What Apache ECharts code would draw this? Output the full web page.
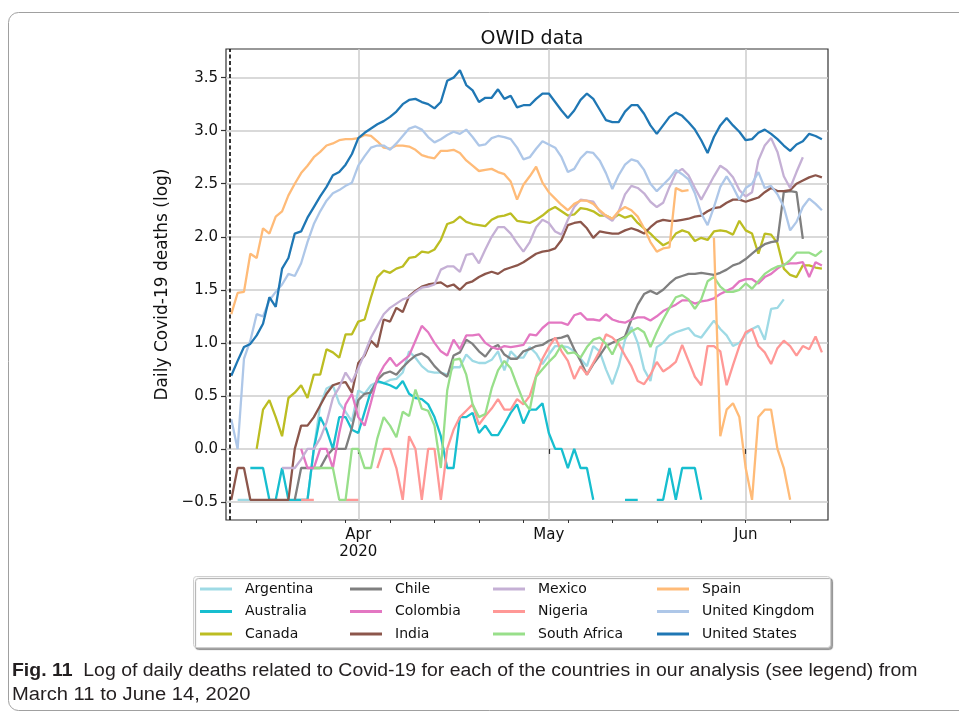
<!DOCTYPE html>
<html>
<head>
<meta charset="utf-8">
<script src="https://cdn.jsdelivr.net/npm/echarts@6/dist/echarts.min.js"></script>
<style>
  html, body { margin: 0; padding: 0; background: #fff; }
  #chart { width: 959px; height: 714px; }
</style>
</head>
<body>
<div id="chart"></div>
<script>
// days are counted from 1 March 2020 (= 0); first value is 12 March
const firstDay = 11;
const pandemicDay = 10.8;          // dashed marker line
const xMin = 10.17, xMax = 104.96;
const monthStarts = [31, 61, 92];
const monthLabels = ['Apr\n2020', 'May', 'Jun'];
const weekStarts = [15, 22, 29, 36, 43, 50, 57, 64, 71, 78, 85, 92, 99];
const yMin = -0.67, yMax = 3.77;
const yTicks = [-0.5, 0, 0.5, 1, 1.5, 2, 2.5, 3, 3.5];

const countries = ['Argentina', 'Australia', 'Canada', 'Chile', 'Colombia', 'India',
  'Mexico', 'Nigeria', 'South Africa', 'Spain', 'United Kingdom', 'United States'];
const colors = ['#9edae5', '#17becf', '#bcbd22', '#7f7f7f', '#e377c2', '#8c564b',
  '#c5b0d5', '#ff9896', '#98df8a', '#ffbb78', '#aec7e8', '#1f77b4'];

// log10 of daily deaths
const argentina = [null, -0.48, -0.48, -0.48, null, null, null, null, null, null,
  -0.48, -0.48, -0.48, 0.0, 0.41, 0.57, 0.60, 0.43, 0.35, 0.26,
  0.55, 0.52, 0.60, 0.63, 0.62, 0.65, 0.66, 0.72, 0.92, 0.86,
  0.78, 0.73, 0.72, 0.72, 0.70, 0.77, 0.77, 0.89, 0.83, 0.81,
  0.81, 0.84, 0.92, 0.74, 0.92, 0.86, 0.86, 0.96, 0.90, 0.80,
  0.89, 0.97, 0.97, 0.96, 0.92, 0.85, 0.78, 0.97, 0.92, 0.75,
  0.61, 0.78, 1.03, 1.15, 1.00, 0.75, 0.64, 0.96, 1.00, 1.07,
  1.10, 1.12, 1.14, 1.07, 1.05, 1.13, 1.21, 1.13, 1.07, 0.97,
  1.00, 1.08, 1.13, 1.16, 1.03, 1.32, 1.33, 1.41, null, null,
  null, null, null, null];
const australia = [null, null, null, -0.18, -0.18, -0.18, -0.48, -0.48, -0.18, -0.48,
  -0.48, -0.48, -0.48, 0.0, 0.30, 0.18, 0.0, 0.30, 0.30, 0.18,
  0.15, 0.35, 0.55, 0.64, 0.62, 0.60, 0.57, 0.64, 0.52, 0.48,
  0.47, 0.42, 0.30, 0.12, -0.18, -0.18, 0.30, 0.30, 0.34, 0.15,
  0.22, 0.13, 0.13, 0.23, 0.34, 0.42, 0.24, 0.37, 0.37, 0.43,
  0.15, 0.0, 0.0, -0.18, 0.0, -0.18, -0.18, -0.48, null, null,
  null, null, -0.48, -0.48, -0.48, null, null, -0.48, -0.48, -0.18,
  -0.48, -0.18, -0.18, -0.18, -0.48, null, null, null, null, null,
  null, null, null, null, null, null, null, null, null, null,
  null, null, null, null];
const canada = [null, null, null, null, 0.0, 0.37, 0.46, 0.30, 0.12, 0.48,
  0.53, 0.60, 0.48, 0.70, 0.70, 0.94, 0.91, 0.86, 1.08, 1.08,
  1.20, 1.22, 1.43, 1.62, 1.68, 1.66, 1.70, 1.72, 1.80, 1.81,
  1.86, 1.85, 1.88, 1.97, 2.12, 2.14, 2.19, 2.14, 2.12, 2.11,
  2.10, 2.16, 2.19, 2.20, 2.22, 2.15, 2.14, 2.13, 2.16, 2.20,
  2.25, 2.28, 2.24, 2.20, 2.21, 2.27, 2.26, 2.24, 2.20, 2.20,
  2.17, 2.21, 2.18, 2.20, 2.13, 2.08, 2.03, 1.97, 1.92, 1.95,
  2.03, 2.06, 2.04, 1.96, 1.99, 1.97, 2.05, 2.06, 2.05, 2.02,
  2.15, 2.06, 2.03, 1.84, 2.03, 2.02, 1.94, 1.70, 1.64, 1.62,
  1.73, 1.73, 1.71, 1.70];
const chile = [null, null, null, null, null, null, null, null, null, null,
  -0.48, -0.18, -0.18, -0.18, -0.18, -0.07, 0.0, 0.0, 0.0, 0.20,
  0.46, 0.52, 0.53, 0.65, 0.71, 0.73, 0.70, 0.77, 0.83, 0.88,
  0.90, 0.86, 0.78, 0.72, 0.68, 0.88, 0.91, 1.03, 0.99, 0.92,
  0.87, 0.95, 0.98, 0.89, 0.85, 0.85, 0.92, 0.94, 0.97, 0.98,
  1.02, 1.04, 1.05, 1.07, 0.94, 0.83, 0.70, 0.80, 0.88, 0.97,
  1.00, 1.03, 1.06, 1.22, 1.36, 1.46, 1.49, 1.46, 1.50, 1.56,
  1.61, 1.63, 1.65, 1.65, 1.66, 1.65, 1.64, 1.66, 1.69, 1.73,
  1.75, 1.79, 1.84, 1.89, 1.93, 1.95, 1.96, 2.42, 2.43, 2.42,
  1.98, null, null, null];
const colombia = [null, null, null, null, null, null, null, null, null, null,
  null, 0.0, -0.18, -0.18, 0.0, 0.0, -0.18, 0.15, 0.42, 0.52,
  0.30, 0.22, 0.44, 0.67, 0.78, 0.86, 0.78, 0.83, 0.88, 1.02,
  1.16, 1.10, 1.00, 0.92, 0.88, 1.03, 0.94, 1.07, 1.07, 1.08,
  1.00, 0.96, 0.94, 0.97, 0.96, 0.97, 0.98, 1.08, 1.07, 1.14,
  1.19, 1.19, 1.19, 1.17, 1.26, 1.28, 1.22, 1.22, 1.21, 1.27,
  1.22, 1.20, 1.19, 1.22, 1.24, 1.24, 1.21, 1.25, 1.30, 1.33,
  1.36, 1.40, 1.40, 1.37, 1.39, 1.40, 1.42, 1.46, 1.49, 1.52,
  1.58, 1.60, 1.60, 1.56, 1.62, 1.65, 1.70, 1.74, 1.75, 1.75,
  1.76, 1.62, 1.76, 1.73];
const india = [-0.48, -0.18, -0.18, -0.48, -0.48, -0.48, -0.48, -0.48, -0.48, -0.48,
  0.0, 0.22, 0.22, 0.30, 0.41, 0.52, 0.60, 0.62, 0.63, 0.53,
  0.81, 0.88, 1.02, 0.96, 1.22, 1.20, 1.33, 1.29, 1.44, 1.49,
  1.53, 1.55, 1.56, 1.57, 1.53, 1.55, 1.50, 1.56, 1.58, 1.62,
  1.65, 1.67, 1.65, 1.69, 1.71, 1.73, 1.76, 1.80, 1.84, 1.86,
  1.87, 1.89, 1.97, 2.11, 2.13, 2.14, 2.08, 1.99, 2.05, 2.04,
  2.03, 2.03, 2.06, 2.08, 2.06, 2.03, 2.09, 2.14, 2.16, 2.15,
  2.15, 2.16, 2.17, 2.19, 2.20, 2.24, 2.27, 2.28, 2.32, 2.35,
  2.35, 2.33, 2.35, 2.37, 2.42, 2.46, 2.43, 2.43, 2.44, 2.50,
  2.53, 2.56, 2.58, 2.56];
const mexico = [null, null, null, null, null, null, null, null, -0.18, -0.18,
  -0.18, -0.10, 0.0, 0.0, 0.10, 0.25, 0.48, 0.58, 0.72, 0.63,
  0.76, 0.90, 1.05, 1.16, 1.27, 1.33, 1.37, 1.41, 1.43, 1.48,
  1.52, 1.53, 1.55, 1.69, 1.72, 1.72, 1.67, 1.83, 1.84, 1.75,
  1.88, 2.00, 2.09, 2.09, 2.03, 1.94, 1.86, 1.95, 2.09, 2.16,
  2.13, 2.05, 2.02, 2.16, 2.28, 2.35, 2.34, 2.33, 2.24, 2.19,
  2.15, 2.24, 2.40, 2.48, 2.46, 2.41, 2.33, 2.28, 2.32, 2.47,
  2.60, 2.64, 2.58, 2.46, 2.35, 2.46, 2.57, 2.67, 2.63, 2.56,
  2.44, 2.38, 2.42, 2.72, 2.86, 2.93, 2.80, 2.57, 2.46, 2.61,
  2.75, null, null, null];
const nigeria = [null, null, null, null, null, null, null, null, null, null,
  null, -0.48, -0.48, -0.48, null, null, null, null, -0.48, -0.48,
  -0.48, null, null, -0.18, 0.0, 0.0, -0.18, -0.48, 0.12, 0.0,
  -0.48, 0.0, 0.0, -0.48, 0.0, 0.18, 0.30, 0.36, 0.42, 0.23,
  0.31, 0.38, 0.47, 0.37, 0.37, 0.47, 0.42, 0.50, 0.69, 0.85,
  0.96, 1.05, 0.92, 0.83, 0.66, 0.78, 0.70, 0.81, 0.92, 1.08,
  1.05, 0.99, 0.88, 0.78, 0.64, 0.61, 0.70, 0.82, 0.73, 0.77,
  0.82, 0.98, 0.83, 0.68, 0.60, 0.97, 0.97, 0.92, 0.60, 0.79,
  0.97, 1.10, 1.13, 0.97, 0.91, 0.80, 0.95, 1.02, 0.97, 0.88,
  0.97, 0.94, 1.06, 0.91];
const southAfrica = [null, null, null, null, null, null, null, null, null, null,
  null, null, null, -0.18, -0.18, -0.18, -0.18, -0.48, -0.48, 0.0,
  0.0, -0.18, -0.18, 0.10, 0.30, 0.22, 0.11, 0.35, 0.31, 0.56,
  0.38, 0.36, 0.22, -0.18, 0.55, 0.84, 0.85, 0.70, 0.42, 0.30,
  0.33, 0.57, 0.74, 0.83, 0.76, 0.60, 0.45, 0.37, 0.68, 0.75,
  0.82, 0.88, 0.98, 0.90, 0.91, 0.86, 0.96, 1.03, 1.05, 0.99,
  0.89, 1.02, 1.05, 1.11, 1.14, 1.10, 0.96, 1.10, 1.22, 1.33,
  1.43, 1.45, 1.41, 1.32, 1.41, 1.58, 1.62, 1.53, 1.48, 1.48,
  1.50, 1.56, 1.51, 1.58, 1.65, 1.69, 1.72, 1.73, 1.78, 1.85,
  1.85, 1.85, 1.82, 1.87];
const spain = [1.27, 1.47, 1.48, 1.84, 1.80, 2.08, 2.03, 2.19, 2.24, 2.39,
  2.50, 2.60, 2.67, 2.75, 2.80, 2.86, 2.88, 2.91, 2.92, 2.92,
  2.93, 2.96, 2.95, 2.90, 2.84, 2.83, 2.86, 2.86, 2.85, 2.82,
  2.77, 2.75, 2.74, 2.81, 2.81, 2.82, 2.79, 2.72, 2.67, 2.62,
  2.63, 2.64, 2.61, 2.59, 2.52, 2.35, 2.49, 2.57, 2.66, 2.51,
  2.42, 2.36, 2.30, 2.25, 2.31, 2.34, 2.34, 2.31, 2.25, 2.20,
  2.17, 2.24, 2.28, 2.25, 2.19, 2.08, 1.95, 1.86, 1.89, 1.90,
  2.46, 2.43, 2.44, null, null, null, 1.99, 0.12, 0.37, 0.43,
  0.30, -0.18, -0.48, 0.30, 0.37, 0.37, 0.0, -0.18, -0.48, null,
  null, null, null, null];
const unitedKingdom = [0.28, 0.0, 0.85, 1.02, 1.27, 1.25, 1.40, 1.48, 1.55, 1.65,
  1.63, 1.75, 1.95, 2.12, 2.24, 2.34, 2.41, 2.44, 2.48, 2.51,
  2.67, 2.76, 2.84, 2.86, 2.86, 2.82, 2.88, 2.95, 3.02, 3.04,
  3.01, 2.94, 2.89, 2.92, 2.96, 2.99, 2.97, 3.01, 2.94, 2.86,
  2.87, 2.93, 2.95, 2.94, 2.92, 2.84, 2.73, 2.75, 2.83, 2.90,
  2.87, 2.84, 2.75, 2.61, 2.64, 2.74, 2.80, 2.79, 2.72, 2.60,
  2.45, 2.58, 2.68, 2.73, 2.71, 2.63, 2.50, 2.43, 2.49, 2.55,
  2.63, 2.59, 2.54, 2.41, 2.22, 2.11, 2.28, 2.47, 2.57, 2.47,
  2.35, 2.46, 2.50, 2.61, 2.46, 2.48, 2.40, 2.28, 2.06, 2.14,
  2.28, 2.36, 2.31, 2.25];
const unitedStates = [0.69, 0.83, 0.96, 0.99, 1.07, 1.18, 1.43, 1.34, 1.70, 1.80,
  2.03, 2.05, 2.18, 2.28, 2.38, 2.47, 2.58, 2.61, 2.68, 2.78,
  2.93, 2.98, 3.02, 3.06, 3.09, 3.13, 3.18, 3.25, 3.29, 3.30,
  3.27, 3.25, 3.21, 3.27, 3.47, 3.50, 3.57, 3.43, 3.38, 3.27,
  3.31, 3.31, 3.39, 3.30, 3.33, 3.22, 3.24, 3.24, 3.30, 3.35,
  3.35, 3.27, 3.19, 3.12, 3.19, 3.29, 3.35, 3.30, 3.20, 3.10,
  3.08, 3.08, 3.18, 3.24, 3.24, 3.16, 3.05, 2.97, 3.05, 3.13,
  3.17, 3.14, 3.08, 3.01, 2.91, 2.79, 2.94, 3.05, 3.12, 3.05,
  2.99, 2.91, 2.92, 2.98, 3.01, 2.97, 2.92, 2.86, 2.81, 2.87,
  2.90, 2.97, 2.95, 2.92];

const seriesValues = [argentina, australia, canada, chile, colombia, india,
  mexico, nigeria, southAfrica, spain, unitedKingdom, unitedStates];

const legendColumns = [
  ['Argentina', 'Australia', 'Canada'],
  ['Chile', 'Colombia', 'India'],
  ['Mexico', 'Nigeria', 'South Africa'],
  ['Spain', 'United Kingdom', 'United States']
];
const legendLefts = [200, 350, 493, 657];

const fontFamily = 'DejaVu Sans';
const captionFont = 'Liberation Sans';
const textColor = '#111';
const gridColor = '#cccccc';

var myChart = echarts.init(document.getElementById('chart'), null, { renderer: 'canvas' });

const series = countries.map((name, k) => {
  const s = {
    name: name,
    type: 'line',
    xAxisIndex: 0,
    data: seriesValues[k].map((v, i) => [firstDay + i, v]),
    showSymbol: false,
    symbol: 'none',
    connectNulls: false,
    silent: true,
    color: colors[k],
    lineStyle: { width: 2.3, color: colors[k] },
    emphasis: { disabled: true }
  };
  if (k === 0) {
    s.markLine = {
      silent: true,
      symbol: 'none',
      label: { show: false },
      lineStyle: { color: '#000', type: [4, 2.5], width: 1.6 },
      data: [{ xAxis: pandemicDay }]
    };
  }
  return s;
});

const option = {
  animation: false,
  backgroundColor: '#fff',
  title: {
    text: 'OWID data',
    left: 527,
    top: 25,
    textAlign: 'center',
    textStyle: { fontFamily: fontFamily, fontSize: 19, fontWeight: 'normal', color: textColor }
  },
  grid: {
    left: 226, top: 49, width: 602, height: 471,
    show: true, borderColor: '#333', borderWidth: 1.2, backgroundColor: 'transparent'
  },
  xAxis: [
    {
      type: 'value', min: xMin, max: xMax,
      axisLine: { show: false },
      axisTick: { show: true, customValues: monthStarts, length: 5, lineStyle: { color: '#333', width: 1.2 } },
      axisLabel: {
        customValues: monthStarts,
        formatter: v => monthLabels[monthStarts.indexOf(v)],
        margin: 7, fontFamily: fontFamily, fontSize: 15, color: textColor, lineHeight: 17
      },
      splitLine: { show: true, lineStyle: { color: gridColor, width: 1.5 } }
    },
    {
      type: 'value', min: xMin, max: xMax, position: 'bottom',
      axisLine: { show: false },
      axisTick: { show: true, customValues: weekStarts, length: 3, lineStyle: { color: '#333', width: 1 } },
      axisLabel: { show: false },
      splitLine: { show: false }
    }
  ],
  yAxis: {
    type: 'value', min: yMin, max: yMax,
    name: 'Daily Covid-19 deaths (log)',
    nameLocation: 'middle', nameGap: 47,
    nameTextStyle: { fontFamily: fontFamily, fontSize: 17, color: textColor },
    axisLine: { show: false },
    axisTick: { show: true, customValues: yTicks, length: 5, lineStyle: { color: '#333', width: 1.2 } },
    axisLabel: {
      customValues: yTicks,
      formatter: v => (v < 0 ? '\u2212' + Math.abs(v).toFixed(1) : v.toFixed(1)),
      margin: 8, fontFamily: fontFamily, fontSize: 15, color: textColor
    },
    splitLine: { show: true, lineStyle: { color: gridColor, width: 1.5 } }
  },
  legend: legendColumns.map((names, k) => ({
    data: names,
    orient: 'vertical',
    left: legendLefts[k],
    top: 580,
    padding: 0,
    itemWidth: 32,
    itemHeight: 3,
    itemGap: 4.5,
    icon: 'rect',
    selectedMode: false,
    textStyle: { fontFamily: fontFamily, fontSize: 14, color: textColor, lineHeight: 18, padding: [0, 0, 0, 8] }
  })),
  graphic: [
    {
      type: 'rect', z: 0,
      shape: { x: 8.5, y: 12.5, width: 1000, height: 698, r: 10 },
      style: { fill: 'none', stroke: '#a0a0a0', lineWidth: 1 }
    },
    {
      type: 'rect', z: 0,
      shape: { x: 193.5, y: 576.5, width: 637, height: 71, r: 3 },
      style: {
        fill: '#fff', stroke: '#cfcfcf', lineWidth: 1,
        shadowColor: 'rgba(0,0,0,0.35)', shadowOffsetX: 2, shadowOffsetY: 2, shadowBlur: 1
      }
    },
    {
      type: 'text', z: 5, x: 12, y: 671, scaleX: 1.08,
      style: {
        text: '{b|Fig. 11}  Log of daily deaths related to Covid-19 for each of the countries in our analysis (see legend) from',
        fontFamily: captionFont, fontSize: 18, fill: '#231f20', verticalAlign: 'middle',
        rich: { b: { fontFamily: captionFont, fontSize: 18, fontWeight: 'bold', fill: '#231f20' } }
      }
    },
    {
      type: 'text', z: 5, x: 12, y: 695, scaleX: 1.12,
      style: {
        text: 'March 11 to June 14, 2020',
        fontFamily: captionFont, fontSize: 18, fill: '#231f20', verticalAlign: 'middle'
      }
    }
  ],
  series: series
};

myChart.setOption(option);
</script>
</body>
</html>
